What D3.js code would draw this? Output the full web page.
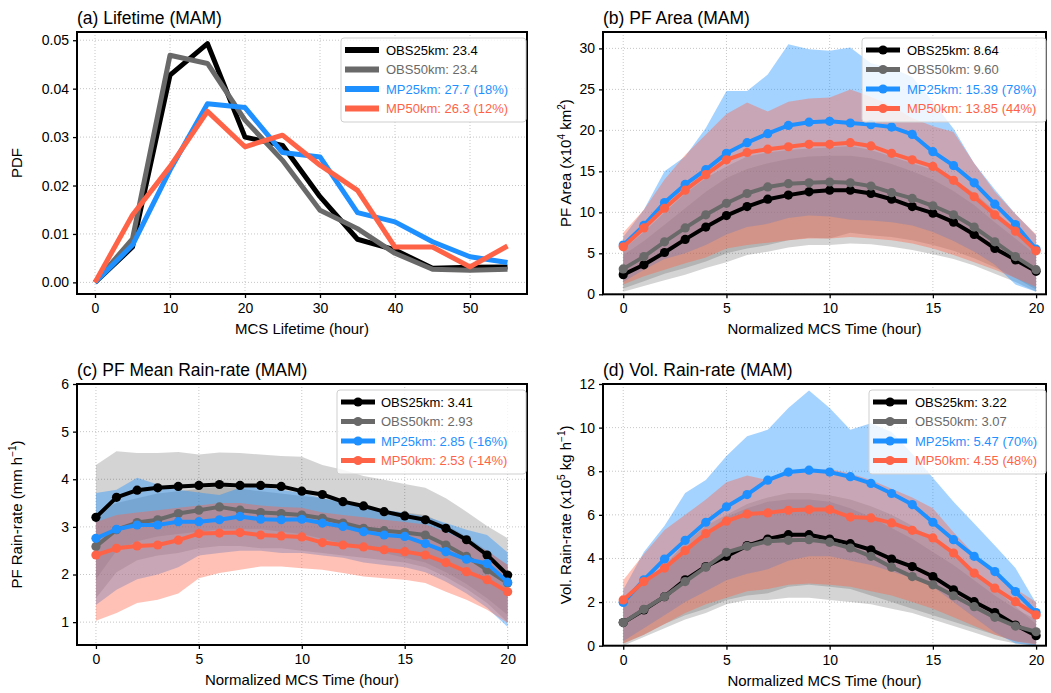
<!DOCTYPE html>
<html lang="en">
<head>
<meta charset="utf-8">
<title>MCS MAM</title>
<script type="text/javascript" src="https://d3js.org/d3.v7.min.js"></script>
<style>
  body { margin: 0; background: #fff; }
  svg { font-family: "Liberation Sans", Arial, Helvetica, sans-serif; }
  .tick text { font-size: 14px; fill: #000; }
  .tick line { stroke: #000; stroke-width: 1.3; }
</style>
</head>
<body>
<div id="container"></div>
<script type="text/javascript">

var w = 1051;
var h = 693;

// ---- data ----
var lifeHours = [0, 5, 10, 15, 20, 25, 30, 35, 40, 45, 50, 55];
var lifeObs25 = [0, 0.0073, 0.0428, 0.0493, 0.0300, 0.0283, 0.0177, 0.0089, 0.0067, 0.0029, 0.0031, 0.0032];
var lifeObs50 = [0, 0.0090, 0.0469, 0.0452, 0.0335, 0.0252, 0.0149, 0.0111, 0.0060, 0.0027, 0.0025, 0.0027];
var lifeMp25 = [0, 0.0077, 0.0232, 0.0369, 0.0361, 0.0268, 0.0259, 0.0144, 0.0125, 0.0084, 0.0053, 0.0041];
var lifeMp50 = [0, 0.0139, 0.0239, 0.0353, 0.0280, 0.0304, 0.0242, 0.0190, 0.0073, 0.0073, 0.0032, 0.0075];

var normHours = [0, 1, 2, 3, 4, 5, 6, 7, 8, 9, 10, 11, 12, 13, 14, 15, 16, 17, 18, 19, 20];

var areaObs25 = [2.4, 3.6, 5.1, 6.7, 8.2, 9.6, 10.7, 11.6, 12.1, 12.5, 12.7, 12.7, 12.3, 11.6, 10.7, 9.9, 8.8, 7.3, 5.6, 4.2, 2.8];
var areaObs50 = [3.1, 4.6, 6.4, 8.1, 9.7, 11.1, 12.3, 13.1, 13.5, 13.6, 13.7, 13.6, 13.2, 12.4, 11.7, 10.8, 9.7, 8.2, 6.4, 4.6, 3.0];
var areaMp25 = [6.0, 8.4, 11.2, 13.4, 15.2, 17.2, 18.5, 19.6, 20.6, 21.0, 21.1, 20.9, 20.7, 20.4, 19.5, 17.4, 15.7, 13.6, 11.0, 8.5, 5.5];
var areaMp50 = [5.8, 8.1, 10.5, 12.7, 14.6, 16.4, 17.3, 17.7, 18.0, 18.3, 18.3, 18.5, 18.1, 17.2, 16.4, 15.6, 13.9, 11.9, 9.7, 7.7, 5.3];
var areaObs25Lo = [0.3, 1.0, 1.7, 2.4, 3.2, 3.9, 4.8, 5.2, 5.7, 6.0, 6.0, 6.2, 6.1, 5.8, 5.4, 4.9, 4.3, 3.5, 2.5, 1.5, 0.3];
var areaObs25Hi = [4.8, 6.5, 8.5, 10.5, 12.5, 14.2, 15.3, 16.0, 16.5, 16.8, 16.9, 16.9, 16.6, 15.9, 15.0, 14.0, 12.6, 10.9, 8.8, 6.8, 4.8];
var areaObs50Lo = [0.7, 1.6, 2.5, 3.2, 4.0, 5.0, 5.6, 6.0, 6.6, 6.9, 6.8, 7.5, 7.2, 7.0, 6.6, 6.0, 5.3, 4.4, 3.3, 2.0, 0.6];
var areaObs50Hi = [5.5, 7.6, 10.0, 12.3, 14.2, 15.6, 16.8, 17.3, 17.6, 17.8, 17.9, 18.1, 17.6, 16.8, 16.0, 15.2, 14.0, 12.4, 10.2, 7.8, 5.6];
var areaMp25Lo = [1.5, 3.0, 4.3, 5.0, 6.0, 7.3, 8.2, 8.6, 9.3, 9.6, 9.5, 9.1, 9.0, 8.8, 8.4, 7.6, 6.5, 5.2, 3.6, 1.2, 0.3];
var areaMp25Hi = [7.0, 10.3, 15.0, 16.8, 20.3, 24.8, 24.8, 26.8, 30.5, 29.9, 29.7, 30.1, 28.2, 27.6, 26.5, 23.5, 20.2, 16.0, 12.8, 9.8, 7.2];
var areaMp50Lo = [1.2, 2.2, 3.0, 3.8, 4.5, 5.6, 6.0, 6.3, 6.6, 6.8, 6.8, 7.0, 6.8, 6.6, 6.2, 5.6, 4.8, 3.9, 3.0, 2.0, 0.9];
var areaMp50Hi = [7.5, 10.3, 14.0, 17.0, 19.5, 22.0, 23.4, 22.3, 23.5, 23.9, 24.0, 25.0, 24.1, 23.0, 21.5, 20.5, 19.8, 16.0, 12.5, 9.8, 7.3];

var rainObs25 = [3.20, 3.62, 3.77, 3.82, 3.85, 3.87, 3.89, 3.87, 3.87, 3.85, 3.75, 3.68, 3.53, 3.44, 3.32, 3.23, 3.15, 2.97, 2.73, 2.41, 1.99];
var rainObs50 = [2.59, 2.94, 3.09, 3.15, 3.28, 3.35, 3.42, 3.35, 3.30, 3.28, 3.25, 3.18, 3.08, 2.97, 2.92, 2.88, 2.83, 2.62, 2.38, 2.10, 1.82];
var rainMp25 = [2.76, 2.95, 3.04, 3.04, 3.11, 3.11, 3.15, 3.22, 3.16, 3.15, 3.16, 3.08, 3.01, 2.90, 2.83, 2.80, 2.65, 2.48, 2.32, 2.23, 1.84];
var rainMp50 = [2.41, 2.55, 2.60, 2.62, 2.72, 2.86, 2.87, 2.88, 2.83, 2.81, 2.79, 2.67, 2.62, 2.58, 2.52, 2.48, 2.41, 2.25, 2.06, 1.89, 1.64];
var rainObs25Lo = [1.9, 2.5, 2.7, 2.8, 2.85, 2.9, 2.95, 2.95, 2.95, 2.9, 2.85, 2.75, 2.65, 2.55, 2.45, 2.35, 2.25, 2.05, 1.8, 1.5, 1.15];
var rainObs25Hi = [4.30, 4.59, 4.55, 4.55, 4.57, 4.52, 4.56, 4.55, 4.52, 4.49, 4.47, 4.30, 4.20, 4.07, 3.99, 3.90, 3.82, 3.60, 3.32, 3.02, 2.76];
var rainObs50Lo = [1.5, 2.05, 2.3, 2.4, 2.45, 2.55, 2.6, 2.6, 2.55, 2.55, 2.5, 2.45, 2.4, 2.35, 2.3, 2.25, 2.15, 1.95, 1.7, 1.4, 1.0];
var rainObs50Hi = [3.3, 3.5, 3.6, 3.7, 3.75, 3.8, 3.85, 3.8, 3.75, 3.7, 3.65, 3.6, 3.5, 3.4, 3.35, 3.3, 3.25, 3.05, 2.8, 2.5, 2.2];
var rainMp25Lo = [1.36, 1.68, 1.9, 2.0, 2.15, 2.4, 2.45, 2.5, 2.5, 2.45, 2.45, 2.4, 2.35, 2.25, 2.2, 2.15, 2.05, 1.85, 1.6, 1.3, 0.9];
var rainMp25Hi = [3.71, 3.78, 4.03, 3.89, 3.78, 3.72, 3.67, 3.82, 3.84, 3.78, 3.71, 3.60, 3.53, 3.43, 3.36, 3.29, 3.22, 3.08, 2.94, 2.83, 2.46];
var rainMp50Lo = [1.03, 1.19, 1.40, 1.47, 1.60, 1.92, 2.03, 2.10, 2.17, 2.17, 2.13, 2.10, 2.03, 1.96, 1.92, 1.89, 1.82, 1.64, 1.47, 1.26, 0.98];
var rainMp50Hi = [3.1, 3.25, 3.3, 3.35, 3.4, 3.45, 3.5, 3.5, 3.45, 3.42, 3.4, 3.3, 3.25, 3.2, 3.15, 3.1, 3.05, 2.9, 2.7, 2.5, 2.2];

var volObs25 = [1.06, 1.64, 2.25, 3.02, 3.63, 4.10, 4.59, 4.89, 5.09, 5.09, 4.89, 4.68, 4.40, 3.97, 3.63, 3.17, 2.56, 2.02, 1.52, 0.95, 0.46];
var volObs50 = [1.06, 1.67, 2.25, 2.94, 3.60, 4.28, 4.56, 4.79, 4.83, 4.86, 4.74, 4.48, 4.10, 3.60, 3.17, 2.79, 2.29, 1.79, 1.30, 0.90, 0.64];
var volMp25 = [1.98, 3.02, 3.97, 4.83, 5.66, 6.37, 6.93, 7.59, 7.96, 8.05, 7.96, 7.75, 7.44, 6.98, 6.47, 5.66, 4.86, 4.10, 3.40, 2.48, 1.52];
var volMp50 = [2.10, 2.94, 3.56, 4.36, 5.14, 5.71, 6.04, 6.09, 6.21, 6.24, 6.24, 5.90, 5.86, 5.63, 5.29, 4.94, 4.25, 3.33, 2.64, 2.02, 1.41];
var volObs25Lo = [0.0, 0.4, 0.8, 1.2, 1.5, 1.9, 2.1, 2.1, 2.2, 2.2, 2.1, 2.0, 1.9, 1.7, 1.5, 1.2, 0.9, 0.6, 0.3, 0.1, 0.0];
var volObs25Hi = [2.0, 2.9, 3.7, 4.7, 5.5, 6.0, 6.5, 6.8, 7.0, 7.0, 6.9, 6.7, 6.4, 6.0, 5.5, 4.9, 4.1, 3.3, 2.6, 1.8, 1.0];
var volObs50Lo = [0.1, 0.5, 1.0, 1.4, 1.7, 2.1, 2.3, 2.4, 2.7, 2.8, 2.7, 2.6, 2.3, 2.0, 1.7, 1.4, 1.1, 0.8, 0.5, 0.2, 0.1];
var volObs50Hi = [2.1, 2.9, 3.6, 4.4, 5.2, 5.9, 6.3, 6.6, 6.7, 6.7, 6.6, 6.3, 5.9, 5.4, 4.9, 4.3, 3.7, 3.0, 2.3, 1.7, 1.2];
var volMp25Lo = [0.2, 0.8, 1.4, 2.0, 2.5, 3.0, 3.3, 3.5, 3.9, 4.1, 4.1, 3.9, 3.7, 3.4, 3.1, 2.7, 2.0, 1.3, 0.6, 0.1, 0.0];
var volMp25Hi = [2.56, 4.3, 5.5, 7.0, 7.6, 8.7, 9.6, 9.9, 10.9, 11.7, 10.9, 9.9, 10.2, 9.8, 8.8, 7.7, 6.6, 5.6, 4.6, 3.56, 1.95];
var volMp50Lo = [0.1, 0.5, 1.0, 1.5, 1.9, 2.2, 2.5, 2.6, 2.8, 2.85, 2.8, 2.7, 2.5, 2.3, 2.0, 1.7, 1.3, 0.9, 0.5, 0.2, 0.05];
var volMp50Hi = [3.0, 4.2, 5.3, 6.0, 6.7, 7.5, 7.8, 7.6, 7.9, 8.0, 8.1, 7.9, 7.6, 7.2, 6.8, 6.3, 5.2, 4.2, 3.3, 2.6, 2.0];

var seriesColors = ["#000000", "#696969", "#1e90ff", "#ff6347"];
var bandOpacity = [0.17, 0.3, 0.4, 0.4];

var lifeLegend = ["OBS25km: 23.4", "OBS50km: 23.4", "MP25km: 27.7 (18%)", "MP50km: 26.3 (12%)"];
var areaLegend = ["OBS25km: 8.64", "OBS50km: 9.60", "MP25km: 15.39 (78%)", "MP50km: 13.85 (44%)"];
var rainLegend = ["OBS25km: 3.41", "OBS50km: 2.93", "MP25km: 2.85 (-16%)", "MP50km: 2.53 (-14%)"];
var volLegend = ["OBS25km: 3.22", "OBS50km: 3.07", "MP25km: 5.47 (70%)", "MP50km: 4.55 (48%)"];

var svg = d3.select("div#container").append("svg")
    .attr("width", w).attr("height", h)
    .style("background-color", "#fff");

function drawPanel(p) {
    var x = d3.scaleLinear().domain(p.xdom).range([p.left, p.right]);
    var y = d3.scaleLinear().domain(p.ydom).range([p.bottom, p.top]);
    var g = svg.append("g");

    // grid
    g.selectAll(".gx").data(p.xticks).enter().append("line")
        .attr("x1", d => x(d)).attr("x2", d => x(d))
        .attr("y1", p.top).attr("y2", p.bottom)
        .attr("stroke", "#b8b8b8").attr("stroke-width", 0.8).attr("stroke-dasharray", "1,2");
    g.selectAll(".gy").data(p.yticks).enter().append("line")
        .attr("y1", d => y(d)).attr("y2", d => y(d))
        .attr("x1", p.left).attr("x2", p.right)
        .attr("stroke", "#b8b8b8").attr("stroke-width", 0.8).attr("stroke-dasharray", "1,2");

    var clipId = "clip" + p.id;
    svg.append("clipPath").attr("id", clipId).append("rect")
        .attr("x", p.left).attr("y", p.top)
        .attr("width", p.right - p.left).attr("height", p.bottom - p.top);
    var plot = g.append("g").attr("clip-path", "url(#" + clipId + ")");

    // bands
    if (p.bands) {
        p.bands.forEach(function (b, i) {
            var area = d3.area()
                .x((d, j) => x(p.xs[j]))
                .y0((d, j) => y(b[0][j]))
                .y1((d, j) => y(b[1][j]));
            plot.append("path").datum(b[0])
                .attr("d", area)
                .attr("fill", seriesColors[i])
                .attr("fill-opacity", bandOpacity[i]);
        });
    }

    // lines
    var line = d3.line().x((d, j) => x(p.xs[j])).y(d => y(d));
    p.series.forEach(function (s, i) {
        plot.append("path").datum(s)
            .attr("d", line)
            .attr("fill", "none")
            .attr("stroke", seriesColors[i])
            .attr("stroke-width", p.lw)
            .attr("stroke-linejoin", "round");
        if (p.markers) {
            plot.selectAll(".m" + i).data(s).enter().append("circle")
                .attr("cx", (d, j) => x(p.xs[j]))
                .attr("cy", d => y(d))
                .attr("r", 4.6)
                .attr("fill", seriesColors[i]);
        }
    });

    // axes
    var xa = g.append("g").attr("transform", "translate(0," + p.bottom + ")")
        .call(d3.axisBottom(x).tickValues(p.xticks).tickSize(4).tickPadding(4).tickFormat(d3.format("d")));
    var ya = g.append("g").attr("transform", "translate(" + p.left + ",0)")
        .call(d3.axisLeft(y).tickValues(p.yticks).tickSize(4).tickPadding(4).tickFormat(p.yfmt));
    xa.select(".domain").remove();
    ya.select(".domain").remove();
    xa.selectAll(".tick text").attr("dy", "0.8em");

    // frame
    g.append("rect")
        .attr("x", p.left).attr("y", p.top)
        .attr("width", p.right - p.left).attr("height", p.bottom - p.top)
        .attr("fill", "none").attr("stroke", "#000").attr("stroke-width", 2);

    // title
    g.append("text").attr("x", p.left).attr("y", p.top - 8)
        .attr("font-size", 17.5).text(p.title);

    // x label
    g.append("text").attr("x", (p.left + p.right) / 2).attr("y", p.bottom + 40)
        .attr("text-anchor", "middle").attr("font-size", 15).text(p.xlabel);

    // y label
    var yl = g.append("text")
        .attr("transform", "translate(" + p.ylx + "," + ((p.top + p.bottom) / 2) + ") rotate(-90)")
        .attr("text-anchor", "middle").attr("font-size", 15);
    p.ylabel.forEach(function (part) {
        var t = yl.append("tspan").text(part.t);
        if (part.sup) t.attr("dy", -6).attr("font-size", 10);
        if (part.after) t.attr("dy", 6);
    });

    // legend
    var L = p.legend;
    var lg = g.append("g");
    lg.append("rect").attr("x", L.x).attr("y", L.y).attr("width", L.w).attr("height", 84)
        .attr("rx", 3).attr("fill", "#fff").attr("fill-opacity", 0.8)
        .attr("stroke", "#cfcfcf").attr("stroke-width", 1);
    L.labels.forEach(function (lab, i) {
        var yy = L.y + 12 + i * 19.5;
        lg.append("line").attr("x1", L.x + 4).attr("x2", L.x + 38)
            .attr("y1", yy).attr("y2", yy)
            .attr("stroke", seriesColors[i]).attr("stroke-width", p.lw + 1);
        if (p.markers) {
            lg.append("circle").attr("cx", L.x + 21).attr("cy", yy).attr("r", 4.6)
                .attr("fill", seriesColors[i]);
        }
        lg.append("text").attr("x", L.x + L.tx).attr("y", yy + 4.8)
            .attr("font-size", 13).attr("fill", seriesColors[i]).text(lab);
    });
}

drawPanel({
    id: "a", left: 77, right: 527, top: 32, bottom: 294,
    xdom: [-2.4, 57.6], ydom: [-0.0024, 0.0517],
    xticks: [0, 10, 20, 30, 40, 50], yticks: [0, 0.01, 0.02, 0.03, 0.04, 0.05],
    yfmt: d3.format(".2f"),
    xs: lifeHours, series: [lifeObs25, lifeObs50, lifeMp25, lifeMp50],
    lw: 5, markers: false,
    title: "(a) Lifetime (MAM)", xlabel: "MCS Lifetime (hour)",
    ylx: 22, ylabel: [{t: "PDF"}],
    legend: {x: 341, y: 38, w: 185, tx: 45, labels: lifeLegend}
});

drawPanel({
    id: "b", left: 603, right: 1046, top: 32, bottom: 294.3,
    xdom: [-0.98, 20.48], ydom: [0, 32],
    xticks: [0, 5, 10, 15, 20], yticks: [0, 5, 10, 15, 20, 25, 30],
    yfmt: d3.format("d"),
    xs: normHours, series: [areaObs25, areaObs50, areaMp25, areaMp50],
    bands: [[areaObs25Lo, areaObs25Hi], [areaObs50Lo, areaObs50Hi], [areaMp25Lo, areaMp25Hi], [areaMp50Lo, areaMp50Hi]],
    lw: 4, markers: true,
    title: "(b) PF Area (MAM)", xlabel: "Normalized MCS Time (hour)",
    ylx: 571, ylabel: [{t: "PF Area (x10"}, {t: "4", sup: true}, {t: " km", after: true}, {t: "2", sup: true}, {t: ")", after: true}],
    legend: {x: 862, y: 38, w: 184, tx: 45, labels: areaLegend}
});

drawPanel({
    id: "c", left: 77, right: 527, top: 384, bottom: 645,
    xdom: [-0.92, 20.94], ydom: [0.52, 6.0],
    xticks: [0, 5, 10, 15, 20], yticks: [1, 2, 3, 4, 5, 6],
    yfmt: d3.format("d"),
    xs: normHours, series: [rainObs25, rainObs50, rainMp25, rainMp50],
    bands: [[rainObs25Lo, rainObs25Hi], [rainObs50Lo, rainObs50Hi], [rainMp25Lo, rainMp25Hi], [rainMp50Lo, rainMp50Hi]],
    lw: 4, markers: true,
    title: "(c) PF Mean Rain-rate (MAM)", xlabel: "Normalized MCS Time (hour)",
    ylx: 22, ylabel: [{t: "PF Rain-rate (mm h"}, {t: "\u22121", sup: true}, {t: ")", after: true}],
    legend: {x: 337, y: 390, w: 189, tx: 44, labels: rainLegend}
});

drawPanel({
    id: "d", left: 603, right: 1046, top: 384, bottom: 645.7,
    xdom: [-0.98, 20.48], ydom: [0, 12],
    xticks: [0, 5, 10, 15, 20], yticks: [0, 2, 4, 6, 8, 10, 12],
    yfmt: d3.format("d"),
    xs: normHours, series: [volObs25, volObs50, volMp25, volMp50],
    bands: [[volObs25Lo, volObs25Hi], [volObs50Lo, volObs50Hi], [volMp25Lo, volMp25Hi], [volMp50Lo, volMp50Hi]],
    lw: 4, markers: true,
    title: "(d) Vol. Rain-rate (MAM)", xlabel: "Normalized MCS Time (hour)",
    ylx: 571, ylabel: [{t: "Vol. Rain-rate (x10"}, {t: "5", sup: true}, {t: " kg h", after: true}, {t: "\u22121", sup: true}, {t: ")", after: true}],
    legend: {x: 869, y: 390, w: 177, tx: 46, labels: volLegend}
});

</script>
</body>
</html>
